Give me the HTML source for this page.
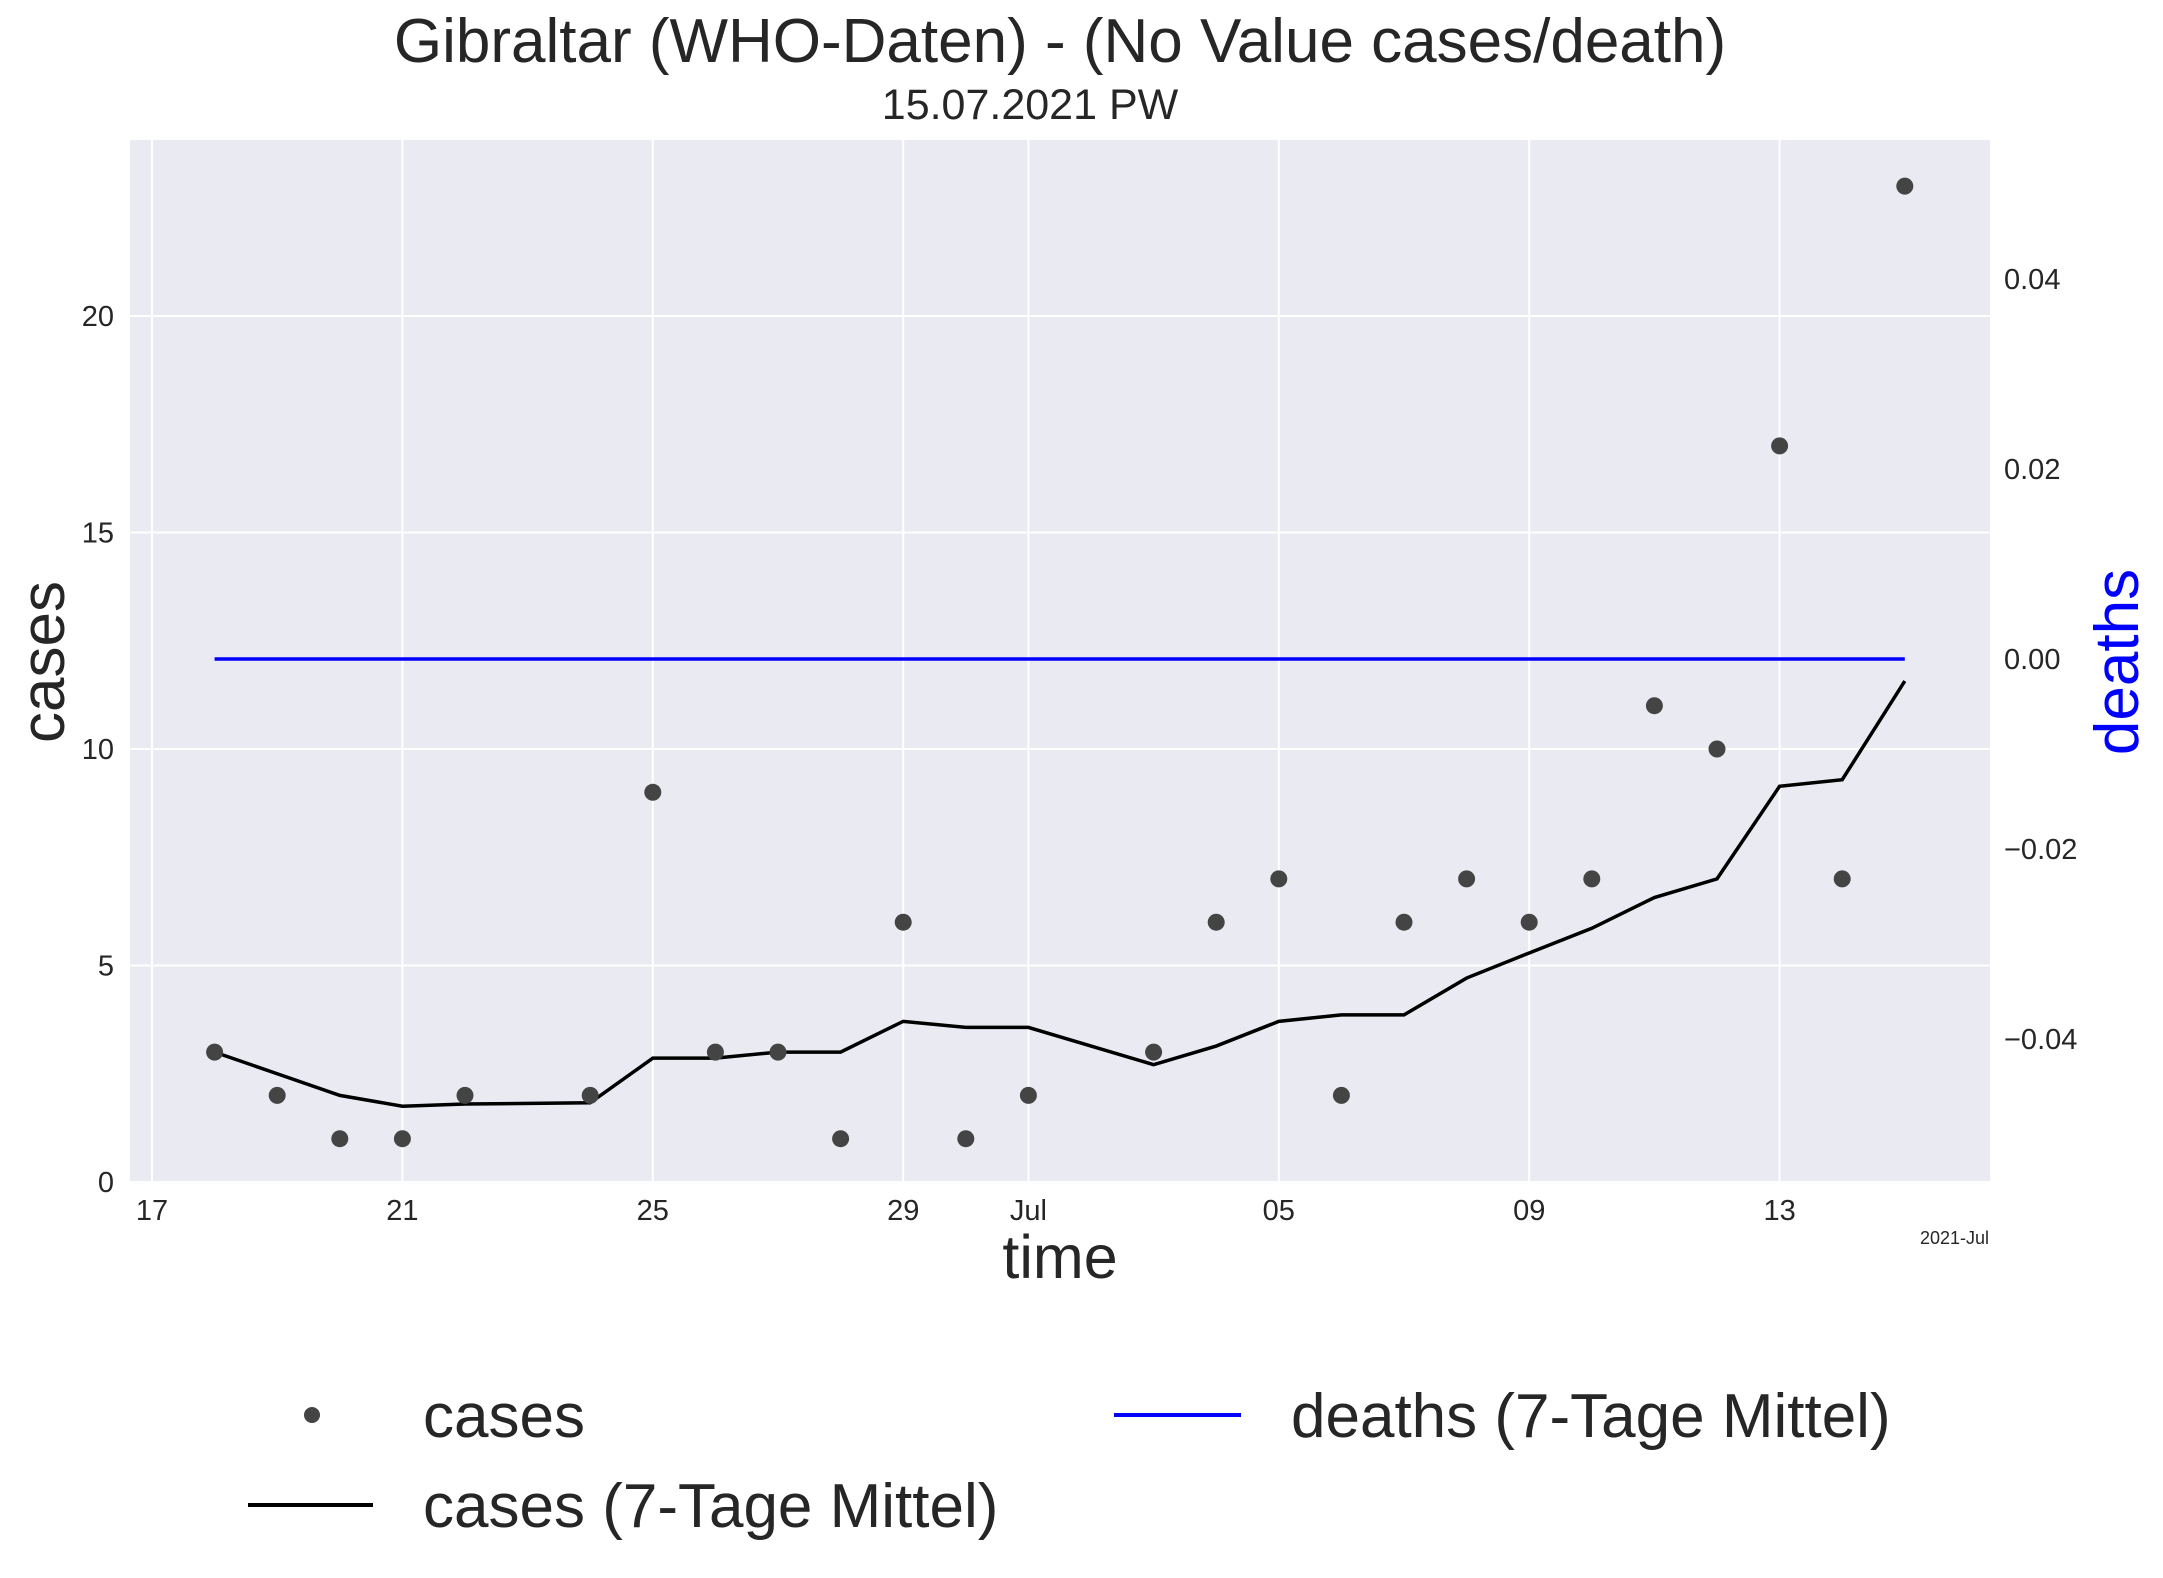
<!DOCTYPE html>
<html><head><meta charset="utf-8"><style>
html,body{margin:0;padding:0;background:#fff}
svg{display:block;font-family:"Liberation Sans",sans-serif}
</style></head><body>
<svg id="chart" width="2163" height="1578" viewBox="0 0 2163 1578">
<text x="1060" y="62" font-size="62" text-anchor="middle" fill="#262626">Gibraltar (WHO-Daten) - (No Value cases/death)</text>
<text x="1030" y="119" font-size="43" text-anchor="middle" fill="#262626">15.07.2021 PW</text>
<rect x="130" y="140" width="1860" height="1042" fill="#eaeaf2"/>
<g id="grid"></g>
<g id="marks"></g>
<g id="ticks"></g>
<text transform="translate(64,662) rotate(-90)" font-size="62" text-anchor="middle" fill="#262626">cases</text>
<text transform="translate(2138,662) rotate(-90)" font-size="62" text-anchor="middle" fill="#0000ff">deaths</text>
<text x="1060" y="1278" font-size="61" text-anchor="middle" fill="#262626">time</text>
<text x="1989" y="1244" font-size="18" text-anchor="end" fill="#262626">2021-Jul</text>
<g>
<circle cx="312" cy="1415" r="8" fill="#444"/>
<text x="423" y="1437" font-size="62" fill="#262626">cases</text>
<line x1="248" y1="1505" x2="373" y2="1505" stroke="#000" stroke-width="4"/>
<text x="423" y="1527" font-size="62" fill="#262626">cases (7-Tage Mittel)</text>
<line x1="1114" y1="1415" x2="1241" y2="1415" stroke="#0000ff" stroke-width="4"/>
<text x="1291" y="1437" font-size="62" fill="#262626">deaths (7-Tage Mittel)</text>
</g>
</svg>
<script>
// day offsets from 17 June 2021
const days = [1,2,3,4,5,7,8,9,10,11,12,13,14,16,17,18,19,20,21,22,23,24,25,26,27,28];
const cases = [3,2,1,1,2,2,9,3,3,1,6,1,2,3,6,7,2,6,7,6,7,11,10,17,7,23];
const casesAvg = [3.0,2.5,2.0,1.75,1.8,1.83,2.86,2.86,3.0,3.0,3.71,3.57,3.57,2.71,3.14,3.71,3.86,3.86,4.71,5.29,5.86,6.57,7.0,9.14,9.29,11.57];
const deathsDays = [1,28];
const deathsAvg = [0,0];
const xTickDays = [0,4,8,12,14,18,22,26];
const xTickLabels = ["17","21","25","29","Jul","05","09","13"];
const yTicks = [0,5,10,15,20];
const y2Ticks = [-0.04,-0.02,0,0.02,0.04];
const y2Labels = ["\u22120.04","\u22120.02","0.00","0.02","0.04"];

const NS="http://www.w3.org/2000/svg";
const X = d => 152 + d*62.6;
const Y = v => 1182 - v*43.3;
const Y2 = v => 659 - v*9500;
function mk(tag, attrs, parent){const e=document.createElementNS(NS,tag);for(const k in attrs)e.setAttribute(k,attrs[k]);document.getElementById(parent).appendChild(e);return e;}

xTickDays.forEach((d,i)=>{
  const g=mk('line',{x1:X(d),x2:X(d),y1:140,y2:1182,stroke:'#fff','stroke-width':2},'grid');
  
  
  const t=mk('text',{x:X(d),y:1220,'font-size':29,'text-anchor':'middle',fill:'#262626'},'ticks');
  t.textContent=xTickLabels[i];
  
  
});
yTicks.forEach(v=>{
  const g=mk('line',{x1:130,x2:1990,y1:Y(v),y2:Y(v),stroke:'#fff','stroke-width':2},'grid');
  
  
  const t=mk('text',{x:114,y:Y(v)+10,'font-size':29,'text-anchor':'end',fill:'#262626'},'ticks');
  t.textContent=String(v);
  
  
});
y2Ticks.forEach((v,i)=>{
  const t=mk('text',{x:2004,y:Y2(v)+10,'font-size':29,fill:'#262626'},'ticks');
  t.textContent=y2Labels[i];
  
  
});
const dl=mk('polyline',{points:deathsDays.map((d,i)=>X(d)+','+Y2(deathsAvg[i])).join(' '),fill:'none',stroke:'#0000ff','stroke-width':3.5},'marks');


const cl=mk('polyline',{points:days.map((d,i)=>X(d)+','+Y(casesAvg[i])).join(' '),fill:'none',stroke:'#000','stroke-width':3.5},'marks');


days.forEach((d,i)=>{
  const c=mk('circle',{cx:X(d),cy:Y(cases[i]),r:8.5,fill:'#444'},'marks');
  
  
});
</script>
</body></html>
